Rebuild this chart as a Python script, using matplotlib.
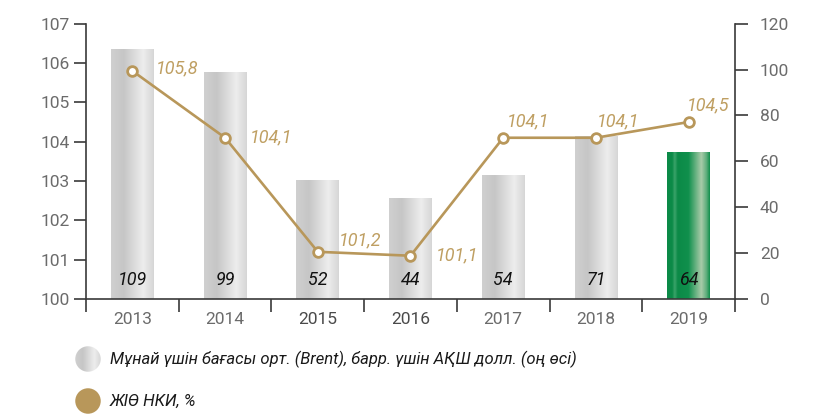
import numpy as np
import matplotlib.pyplot as plt
from matplotlib.patches import Circle
from matplotlib.colors import to_rgb

years = ['2013', '2014', '2015', '2016', '2017', '2018', '2019']
brent = [109, 99, 52, 44, 54, 71, 64]
cpi = [105.8, 104.1, 101.2, 101.1, 104.1, 104.1, 104.5]
cpi_labels = ['105,8', '104,1', '101,2', '101,1', '104,1', '104,1', '104,5']
legend_labels = ['Мұнай үшін бағасы орт. (Brent), барр. үшін АҚШ долл. (оң өсі)',
                 'ЖІӨ НКИ, %']

plt.rcParams['font.family'] = ['Roboto', 'DejaVu Sans']

GOLD = '#b8975a'
GOLD_TXT = '#bf9f62'
TICK_C = '#6b6b6b'
SPINE_C = '#3a3a3a'


def gradient(stops, cols, n=256):
    t = np.linspace(0, 1, n)
    rgb = np.array([to_rgb(c) for c in cols])
    img = np.stack([np.interp(t, stops, rgb[:, k]) for k in range(3)], axis=-1)
    return img[np.newaxis, :, :]


grey_grad = gradient([0, 0.3, 0.75, 1.0], ['#d0d0d0', '#c6c6c6', '#ededed', '#d6d6d6'])
green_grad = gradient([0, 0.12, 0.18, 0.25, 0.5, 0.8, 0.92, 1.0],
                      ['#0b8a47', '#0b8a47', '#3aa36a', '#0b8a47', '#10904d',
                       '#a9cba9', '#5fae7c', '#0f8e4b'])

fig = plt.figure(figsize=(8.15, 4.16), dpi=100)
ax = fig.add_axes([86 / 815, 1 - 299 / 416, 649 / 815, 275.3 / 416])
ax2 = ax.twinx()

x = np.arange(len(years))
bw = 0.46

# bars (right axis) with gradient fill
bars = ax2.bar(x, brent, width=bw, color='none', edgecolor='none')
for i, b in enumerate(bars):
    g = green_grad if i == len(bars) - 1 else grey_grad
    im = ax2.imshow(g, extent=[b.get_x(), b.get_x() + bw, 0, b.get_height()],
                    aspect='auto', zorder=1)
    im.set_clip_path(b)
    ax2.text(x[i], 8.3, str(brent[i]), ha='center', va='center', fontsize=13,
             style='italic', color='#111111')

ax2.set_ylim(0, 120)
ax2.set_yticks(range(0, 121, 20))
ax2.set_xlim(-0.5, 6.5)

# line (left axis)
ax.set_zorder(ax2.get_zorder() + 1)
ax.patch.set_visible(False)
ax.plot(x, cpi, color=GOLD, lw=1.9, marker='o', ms=7, mfc='white', mec=GOLD, mew=2,
        zorder=3)
offsets = [(17, 2, 'left'), (18, 0, 'left'), (15, 8, 'left'), (18, 0, 'left'),
           (18, 12, 'center'), (16, 12, 'center'), (14, 12, 'center')]
for i, (dx, dy, ha) in enumerate(offsets):
    ax.annotate(cpi_labels[i], (x[i], cpi[i]), xytext=(dx, dy), textcoords='offset points',
                ha=ha, va='center', fontsize=13, style='italic', color=GOLD_TXT)

ax.set_ylim(100, 107)
ax.set_xlim(-0.5, 6.5)
ax.set_xticks(x)
ax.set_xticklabels(years)
ax.set_xticks(np.arange(-0.5, 7, 1), minor=True)

for a in (ax, ax2):
    a.spines['top'].set_visible(False)
    for s in a.spines.values():
        s.set_color(SPINE_C)
        s.set_linewidth(1.2)
ax.spines['right'].set_visible(False)
ax2.spines['left'].set_visible(False)
ax2.spines['bottom'].set_visible(False)

ax.tick_params(axis='x', which='major', length=0, pad=9, labelsize=12.5, labelcolor=TICK_C)
ax.tick_params(axis='x', which='minor', length=9, width=1.2, color=SPINE_C, direction='out')
ax.tick_params(axis='y', length=9, width=1.2, color=SPINE_C, pad=3, labelsize=12.5,
               labelcolor=TICK_C)
ax2.tick_params(axis='y', length=9, width=1.2, color=SPINE_C, pad=9, labelsize=12.5,
                labelcolor=TICK_C)
for lbl in ax.get_xticklabels():
    if lbl.get_text() in ('2015', '2016'):
        lbl.set_color('#4a4a4a')

# legend
for k, (ycen, lab) in enumerate(zip([359, 401], legend_labels)):
    lax = fig.add_axes([(88 - 13) / 815, 1 - (ycen + 13) / 416, 26 / 815, 26 / 416])
    lax.set_xlim(0, 1)
    lax.set_ylim(0, 1)
    lax.axis('off')
    c = Circle((0.5, 0.5), 0.49, transform=lax.transAxes,
               facecolor=GOLD if k == 1 else 'none', edgecolor='none')
    lax.add_patch(c)
    if k == 0:
        im = lax.imshow(grey_grad, extent=[0, 1, 0, 1], aspect='auto')
        im.set_clip_path(c)
    fig.text(110 / 815, 1 - ycen / 416, lab, ha='left', va='center', fontsize=12,
             style='italic', color='#1a1a1a')

fig.savefig('out.png', dpi=100)
